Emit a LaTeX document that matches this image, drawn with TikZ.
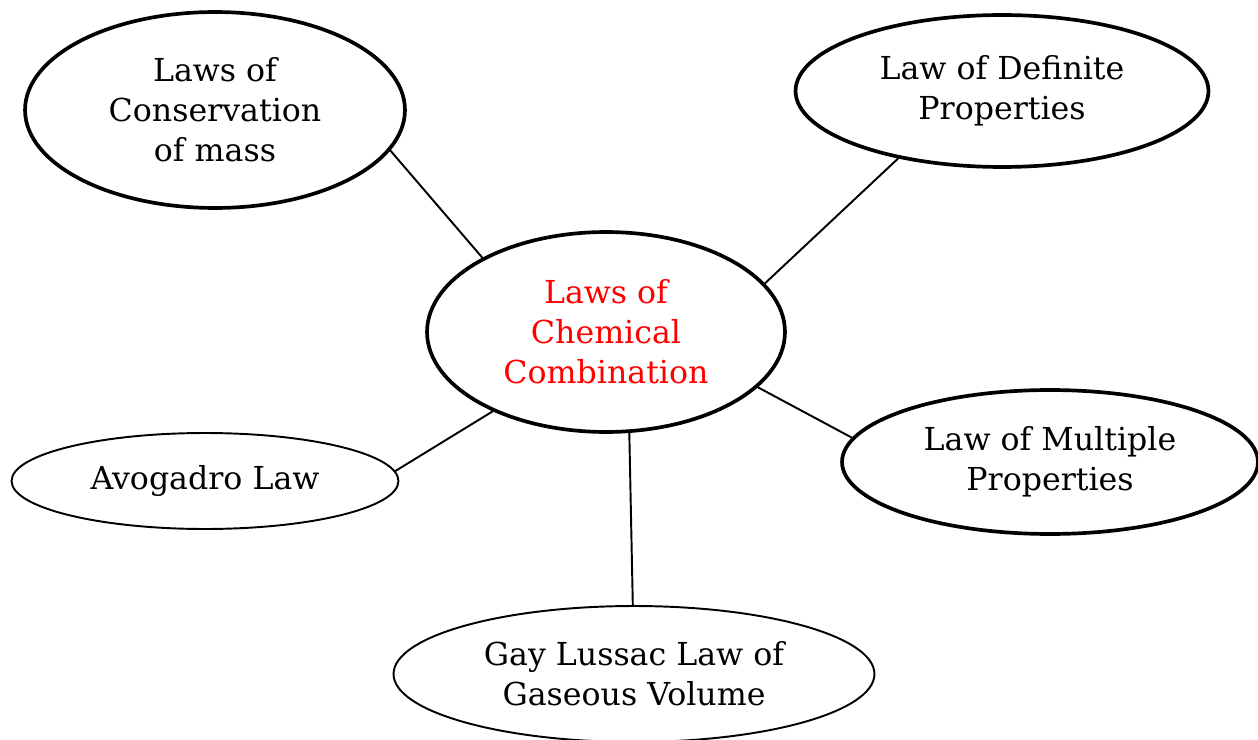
\documentclass[tikz,border=0pt]{standalone}
\usepackage{fontspec}
\setmainfont{DejaVu Serif}
\usetikzlibrary{shapes.geometric}
\definecolor{titlered}{RGB}{255,0,0}
\tikzset{
  lawbox/.style={ellipse, draw=black, inner sep=0pt, align=center,
    font=\fontsize{18}{22.8}\selectfont},
  thickbox/.style={lawbox, line width=2.1pt},
  thinbox/.style={lawbox, line width=1.1pt},
  link/.style={draw=black, line width=1.1pt}
}
\begin{document}
\begin{tikzpicture}[x=0.02cm,y=-0.02cm]
\useasboundingbox (0,0) rectangle (1258,740);
\node[thickbox, minimum width=7.6cm, minimum height=3.92cm] (cons) at (215,110)
  {Laws of\\Conservation\\of mass};
\node[thickbox, minimum width=8.26cm, minimum height=3.04cm] (def) at (1002,91)
  {Law of Definite\\Properties};
\node[thickbox, minimum width=7.16cm, minimum height=4.0cm, text=titlered] (chem) at (606,332)
  {Laws of\\Chemical\\Combination};
\node[thinbox, minimum width=7.74cm, minimum height=1.92cm] (avo) at (205,481)
  {Avogadro Law};
\node[thickbox, minimum width=8.32cm, minimum height=2.88cm] (mult) at (1050,462)
  {Law of Multiple\\Properties};
\node[thinbox, minimum width=9.62cm, minimum height=2.72cm] (gay) at (634,674)
  {Gay Lussac Law of\\Gaseous Volume};
\draw[link] (cons.-13.6) -- (chem.149.6);
\draw[link] (def.213.6) -- (chem.17.7);
\draw[link] (avo.3) -- (chem.215.5);
\draw[link] (mult.173.5) -- (chem.-20.8);
\draw[link] (gay.91.7) -- (chem.-77.7);
\end{tikzpicture}
\end{document}
